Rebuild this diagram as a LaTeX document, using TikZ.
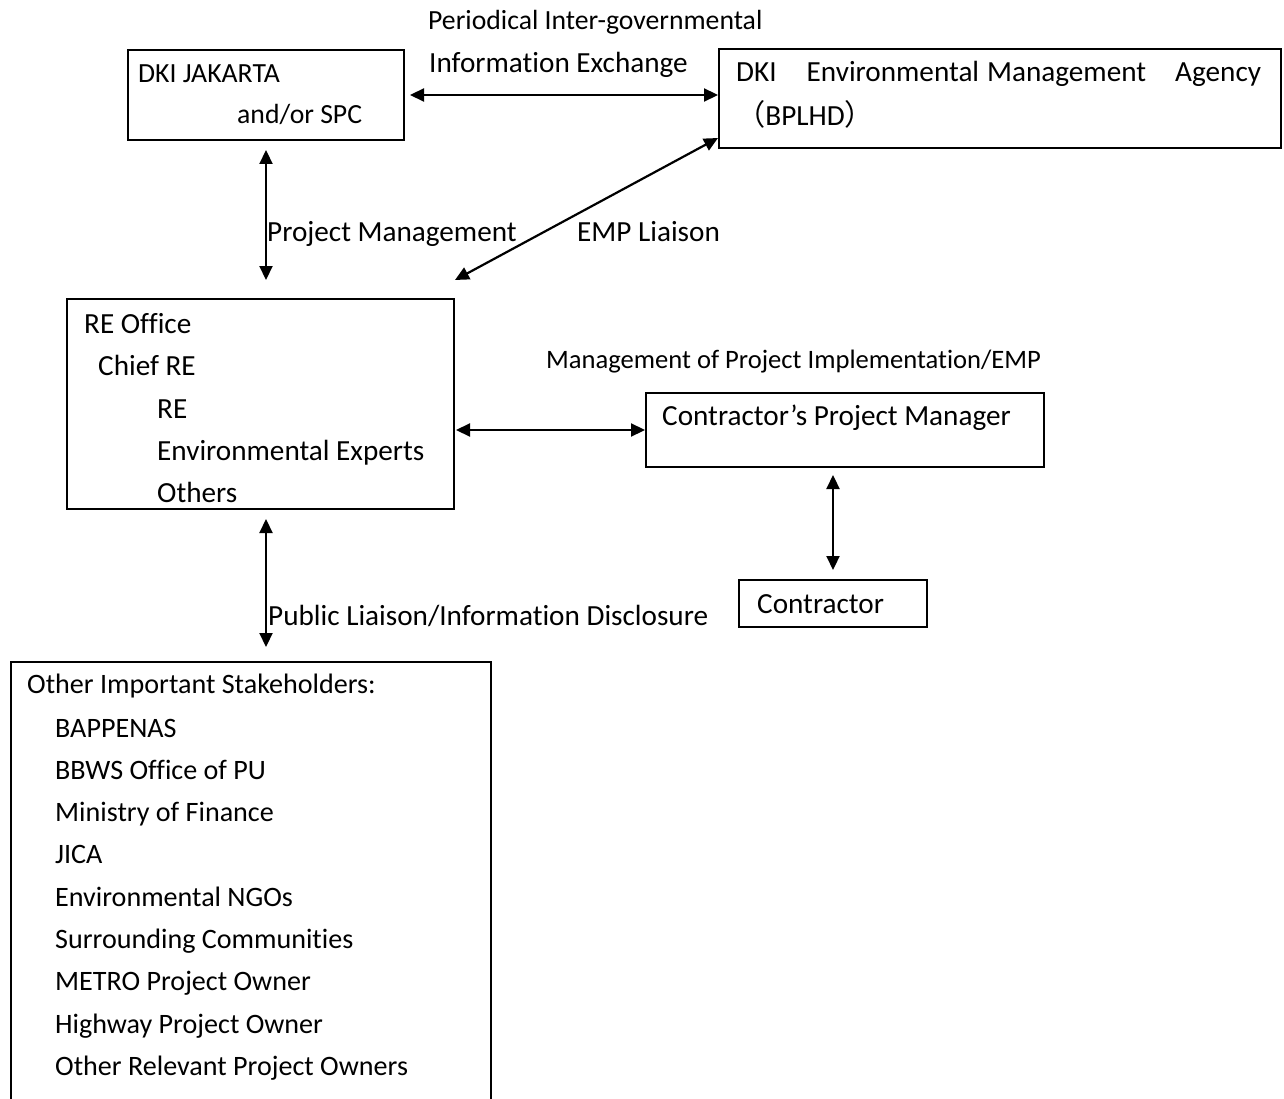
\documentclass[tikz,border=0pt]{standalone}
\usepackage{fontspec}
\setmainfont{Carlito}[Ligatures=NoCommon]
\newfontfamily\cjk{Noto Sans CJK SC}
\usetikzlibrary{positioning, arrows.meta, calc}

\begin{document}
\begin{tikzpicture}[x=1pt, y=-1pt,
    font=\fontsize{29.2}{35}\selectfont,
    box/.style={draw, line width=2pt, anchor=north west, inner sep=0pt},
    txt/.style={anchor=base west, inner sep=0pt},
    listtxt/.style={txt, font=\fontsize{28.1}{34}\selectfont},
    biarrow/.style={{Triangle[length=14pt,width=13pt]}-{Triangle[length=14pt,width=13pt]}, line width=2.2pt},
]
\useasboundingbox (0,0) rectangle (1284,1099);
\clip (0,0) rectangle (1284,1099);

% boxes
\node[box, minimum width=276pt, minimum height=90pt] (jak) at (127,49) {};
\node[box, minimum width=562pt, minimum height=99pt] (bplhd) at (718,48) {};
\node[box, minimum width=387pt, minimum height=210pt] (re) at (66,298) {};
\node[box, minimum width=398pt, minimum height=74pt] (cpm) at (645,392) {};
\node[box, minimum width=188pt, minimum height=47pt] (con) at (738,579) {};
\node[box, minimum width=480pt, minimum height=470pt] (stake) at (10,661) {};

% box texts
\node[txt, font=\fontsize{27.7}{33}\selectfont] (jakA) at (138,83) {DKI JAKARTA};
\node[txt, font=\fontsize{27.7}{33}\selectfont] (jakB) at (237,124) {and/or SPC};
\node[txt] (bplhdA) at (736,82) {DKI\hspace{30pt}Environmental\hspace{8pt}Management\hspace{29pt}Agency};
\node[txt] (bplhdB) at (736,126) {{\cjk （}BPLHD{\cjk ）}};
\node[txt] (reA) at (84,333) {RE Office};
\node[txt] (reB) at (98,375) {Chief RE};
\node[txt] (reC) at (157,418) {RE};
\node[txt] (reD) at (157,460) {Environmental Experts};
\node[txt] (reE) at (157,502) {Others};
\node[txt] (cpmA) at (662,425) {Contractor’s Project Manager};
\node[txt] (conA) at (757,613) {Contractor};
\node[listtxt] (stakeA) at (27,693) {Other Important Stakeholders:};
\foreach \s [count=\k from 0] in {BAPPENAS, BBWS Office of PU, Ministry of Finance, JICA,
    Environmental NGOs, Surrounding Communities, METRO Project Owner,
    Highway Project Owner, Other Relevant Project Owners} {
    \node[listtxt] (stake\k) at (55,737+42.3*\k) {\s};
}

% connector labels
\node[txt, font=\fontsize{27.7}{33}\selectfont] (perA) at (428,30) {Periodical Inter-governmental};
\node[txt] (perB) at (429,73) {Information Exchange};
\node[txt] (pmlbl) at (267,242) {Project Management};
\node[txt] (emplbl) at (577,242) {EMP Liaison};
\node[txt, font=\fontsize{26.6}{32}\selectfont] (mgmtlbl) at (546,368) {Management of Project Implementation/EMP};
\node[txt] (publbl) at (268,625) {Public Liaison/Information Disclosure};

% connectors
\draw[biarrow, shorten <=5pt] (jak.east) -- (jak.east -| bplhd.west);
\draw[biarrow, shorten <=9pt, shorten >=18pt] (jak.south) -- (jak.south |- re.north);
\draw[biarrow] ($(re.north east)+(0,-18)$) -- ($(bplhd.south west)+(0,-11)$);
\draw[biarrow, shorten <=1pt] (cpm.west -| re.east) -- (cpm.west);
\draw[biarrow, shorten <=7pt, shorten >=9pt] (con.north |- cpm.south) -- (con.north);
\draw[biarrow, shorten <=9pt, shorten >=14pt] (re.south -| jak.south) -- (stake.north -| jak.south);

\end{tikzpicture}
\end{document}
